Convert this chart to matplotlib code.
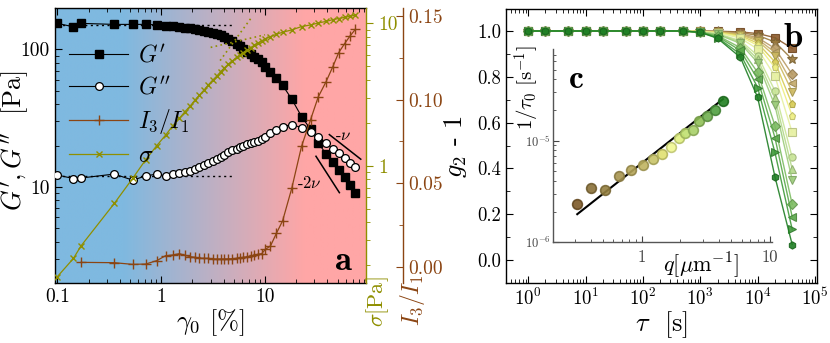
import numpy as np
import matplotlib
matplotlib.use("Agg")
import matplotlib.pyplot as plt
from matplotlib import ticker
from matplotlib.colors import to_rgb

plt.rcParams['font.family'] = 'cmr10'
plt.rcParams['mathtext.fontset'] = 'cm'
plt.rcParams['axes.formatter.use_mathtext'] = True
plt.rcParams['axes.linewidth'] = 1.0

# ---------------- Panel a data ----------------
gamma_pct = [0.1, 0.143, 0.169, 0.354, 0.532, 0.71, 0.906,
             1.105, 1.29, 1.50, 1.70, 1.90, 2.12, 2.33, 2.59, 2.85, 3.13,
             3.43, 3.74, 4.03, 4.43, 4.85, 5.33, 5.74, 6.18, 6.76, 7.28,
             7.89, 8.50, 9.29, 10.1, 11.3, 12.9, 14.8, 18.1, 22.5, 27.5,
             32.6, 38.7, 44.9, 51.2, 58.5, 65.9, 74.1]
G_storage = [154.6, 146, 154.6, 152, 152, 152, 151,
             148, 147, 145.5, 144, 143, 141, 139, 136.5, 134, 131.5,
             129, 126.3, 123.5, 119, 114.5, 109.5, 105.5, 101.5, 96.5, 92,
             88, 84.5, 80.7, 74.5, 68, 61.5, 54.8, 43.5, 32.5, 26.2,
             20.9, 17.4, 15.1, 13.3, 11.8, 10.4, 9.05]
G_loss = [12.2, 11.5, 11.6, 12.4, 11.2, 12.0, 12.4,
          12.0, 12.4, 12.6, 12.9, 13.1, 13.5, 13.9, 14.4, 14.9, 15.4,
          16.0, 16.6, 17.2, 17.8, 18.4, 19.0, 19.6, 20.0, 20.5, 20.8,
          21.2, 21.6, 22.2, 23.1, 24.5, 25.9, 27.4, 28.4, 27.0, 24.9,
          22.9, 20.9, 19.0, 17.5, 16.2, 15.0, 14.0]
sigma_pa = [0.166, 0.223, 0.273, 0.543, 0.815, 1.10, 1.38,
            1.64, 1.90, 2.15, 2.40, 2.62, 2.89, 3.12, 3.40, 3.69, 3.98,
            4.25, 4.57, 4.83, 5.15, 5.43, 5.77, 6.00, 6.23, 6.50, 6.75,
            7.00, 7.23, 7.51, 7.80, 8.06, 8.37, 8.65, 8.98, 9.48, 9.73,
            10.05, 10.3, 10.6, 10.8, 11.0, 11.2, 11.4]
I3_I1 = [np.nan, np.nan, 0.0026, 0.0024, 0.0014, 0.0016, 0.0036,
         0.0066, 0.0070, 0.0078, 0.0068, 0.0060, 0.0056, 0.0052, 0.0050, 0.0050, 0.0047,
         0.0046, 0.0046, 0.0046, 0.0047, 0.0048, 0.0050, 0.0054, 0.0056, 0.0060, 0.0064,
         0.0070, 0.0074, 0.0078, 0.0104, 0.0124, 0.020, 0.0275, 0.0468, 0.072, 0.088,
         0.1016, 0.1106, 0.1195, 0.128, 0.1335, 0.138, 0.142]

plateau_x = [0.1, 4.8]
Gp_plateau = [150, 150]
Gpp_plateau = [12.0, 12.0]
sig_lin_x = [3.7, 7.3]          # linear-regime extrapolation (slope 1)
sig_lin_y = [5.47, 10.8]
sig_pow_x = [3.0, 10.0]         # high-strain power law extrapolation
sig_pow_y = [6.77, 8.3]
nu_x = [41.7, 83.7]
nu_y = [24.0, 15.9]
two_nu_x = [31.0, 52.1]
two_nu_y = [16.7, 9.08]

a_xticks = [0.1, 1, 10]
a_xticklabels = ['0.1', '1', '10']
a_yticks = [10, 100]
a_yticklabels = ['10', '100']
s_yticks = [1, 10]
s_yticklabels = ['1', '10']
i_yticks = [0.0, 0.05, 0.10, 0.15]
i_yticklabels = ['0.00', '0.05', '0.10', '0.15']

# ---------------- Panel b data ----------------
tau_s = [1, 2, 5, 10, 20, 50, 100, 200, 500, 1000, 2000, 5000, 10000, 20000, 40000]
g2_early = [1.0, 1.0, 1.0, 1.0, 1.0, 1.0, 1.0, 1.0, 1.0]
g2_tail = [
    [1.000, 0.999, 0.996, 0.989, 0.971, 0.924],
    [0.999, 0.998, 0.993, 0.981, 0.952, 0.876],
    [0.999, 0.997, 0.989, 0.971, 0.924, 0.811],
    [0.999, 0.996, 0.986, 0.964, 0.907, 0.771],
    [0.998, 0.996, 0.984, 0.957, 0.891, 0.735],
    [0.998, 0.994, 0.980, 0.947, 0.865, 0.680],
    [0.997, 0.993, 0.976, 0.937, 0.841, 0.630],
    [0.997, 0.992, 0.969, 0.921, 0.803, 0.557],
    [0.996, 0.988, 0.958, 0.893, 0.739, 0.448],
    [0.995, 0.987, 0.952, 0.877, 0.707, 0.397],
    [0.994, 0.985, 0.946, 0.862, 0.675, 0.351],
    [0.994, 0.980, 0.927, 0.819, 0.587, 0.243],
    [0.994, 0.976, 0.915, 0.790, 0.535, 0.189],
    [0.994, 0.971, 0.899, 0.753, 0.470, 0.134],
    [0.994, 0.968, 0.885, 0.710, 0.364, 0.068],
]
b_markers = ['s', '*', 'D', '<', 'v', 'p', 'p', 's', 'o', '^', 'v', 'D', '<', '>', 'h']
b_colors = ['#8c5a2a', '#9a7a3e', '#b89a63', '#c4aa6a', '#cdb960', '#d8cc55',
            '#eeee80', '#e6f0a0', '#c8e496', '#b4d88a', '#9ccc7a', '#7cbc62',
            '#5aa84a', '#3f9a3a', '#1f7f24']

# ---------------- Inset c data ----------------
q_um = [0.315, 0.403, 0.518, 0.665, 0.826, 1.02, 1.22, 1.44, 1.69, 1.94,
        2.19, 2.50, 2.81, 3.21, 3.70, 4.27]
rate = [2.40e-6, 3.41e-6, 3.28e-6, 4.48e-6, 5.13e-6, 5.71e-6, 6.55e-6, 7.38e-6,
        8.71e-6, 1.06e-5, 1.18e-5, 1.28e-5, 1.57e-5, 1.76e-5, 2.01e-5, 2.46e-5]
c_colors = ['#7d5a28', '#8a7038', '#958040', '#a89550', '#b4a458', '#c0b460',
            '#c8c468', '#e0e070', '#f0f890', '#e0f080', '#c0e070', '#a8d068',
            '#90c058', '#70b050', '#50a040', '#208020']
fit_q = [0.315, 4.3]
fit_rate = [1.89e-6, 2.56e-5]

olive = '#8f8f00'
brown = '#8b4513'

def darker(c, f=0.7):
    r, g, b = to_rgb(c)
    return (r * f, g * f, b * f)

fig = plt.figure(figsize=(8.3, 3.43), dpi=100)

# ================= Panel a =================
ax = fig.add_axes([54.5 / 830, 60 / 343, 311.5 / 830, 275 / 343])
ax.set_xscale('log')
ax.set_yscale('log')
ax.set_xlim(0.094, 94)
ax.set_ylim(2.0, 200)

# background gradient (blue -> pink)
blue = np.array(to_rgb('#7fb9e0'))
pink = np.array(to_rgb('#ffa6a6'))
u = np.linspace(0, 1, 400)
t = np.clip((u - 0.22) / 0.58, 0, 1)
grad = (1 - t)[:, None] * blue + t[:, None] * pink
ax.imshow(grad[None, :, :], extent=[0, 1, 0, 1], transform=ax.transAxes,
          aspect='auto', zorder=0, interpolation='bilinear')

ax.plot(plateau_x, Gp_plateau, ls=(0, (1.5, 2.5)), color='black', lw=1.0, zorder=2)
ax.plot(plateau_x, Gpp_plateau, ls=(0, (1.5, 2.5)), color='black', lw=1.0, zorder=2)
hGp, = ax.plot(gamma_pct, G_storage, '-s', color='black', lw=0.8, ms=5.2,
               mfc='black', mec='black', zorder=3, label="$G'$")
hGpp, = ax.plot(gamma_pct, G_loss, '-o', color='black', lw=0.8, ms=5.6,
                mfc='white', mec='black', mew=0.9, zorder=3, label="$G''$")
ax.plot(nu_x, nu_y, color='black', lw=1.1, zorder=3)
ax.plot(two_nu_x, two_nu_y, color='black', lw=1.1, zorder=3)
ax.text(56.9, 23.8, r'-$\nu$', fontsize=12, ha='center', va='center', zorder=4)
ax.text(26.6, 10.7, r'-2$\nu$', fontsize=12, ha='center', va='center', zorder=4)

ax.set_xticks(a_xticks)
ax.set_xticklabels(a_xticklabels)
ax.set_yticks(a_yticks)
ax.set_yticklabels(a_yticklabels)
ax.xaxis.set_minor_locator(ticker.LogLocator(base=10, subs=np.arange(2, 10)))
ax.yaxis.set_minor_locator(ticker.LogLocator(base=10, subs=np.arange(2, 10)))
ax.xaxis.set_minor_formatter(ticker.NullFormatter())
ax.yaxis.set_minor_formatter(ticker.NullFormatter())
ax.tick_params(which='both', direction='in', top=True, right=False, labelsize=14)
ax.tick_params(which='major', length=5)
ax.tick_params(which='minor', length=3)
ax.spines['right'].set_visible(False)
ax.set_xlabel(r'$\gamma_0$ [%]', fontsize=19, labelpad=1)
ax.set_ylabel(r"$G',G''$  [Pa]", fontsize=19)
ax.yaxis.set_label_coords(-0.074, 0.52)

# sigma axis
ax_s = ax.twinx()
ax_s.set_yscale('log')
ax_s.set_ylim(0.15, 12.8)
ax_s.plot(sig_lin_x, sig_lin_y, ls=(0, (1, 2)), color=olive, lw=1.2, zorder=2)
ax_s.plot(sig_pow_x, sig_pow_y, ls=(0, (1, 2)), color=olive, lw=1.2, zorder=2)
hS, = ax_s.plot(gamma_pct, sigma_pa, '-x', color=olive, lw=0.9, ms=5, mew=1.0,
                zorder=3, label=r'$\sigma$')
for sp in ['left', 'top', 'bottom']:
    ax_s.spines[sp].set_visible(False)
ax_s.spines['right'].set_color(olive)
ax_s.set_yticks(s_yticks)
ax_s.set_yticklabels(s_yticklabels)
ax_s.yaxis.set_minor_locator(ticker.LogLocator(base=10, subs=np.arange(2, 10)))
ax_s.yaxis.set_minor_formatter(ticker.NullFormatter())
ax_s.tick_params(axis='y', which='both', direction='out', colors=olive, labelsize=14)
ax_s.tick_params(axis='y', which='major', length=5)
ax_s.tick_params(axis='y', which='minor', length=3)

# I3/I1 axis
ax_i = ax.twinx()
ax_i.set_ylim(-0.00975, 0.1548)
ax_i.spines['right'].set_position(('outward', 26.6))
for sp in ['left', 'top', 'bottom']:
    ax_i.spines[sp].set_visible(False)
ax_i.spines['right'].set_color(brown)
hI, = ax_i.plot(gamma_pct, I3_I1, '-+', color=brown, lw=0.9, ms=6.5, mew=1.0,
                zorder=3, label=r'$I_3/I_1$')
ax_i.set_yticks(i_yticks)
ax_i.set_yticklabels(i_yticklabels)
ax_i.yaxis.set_minor_locator(ticker.MultipleLocator(0.025))
ax_i.tick_params(axis='y', which='both', direction='in', colors=brown, labelsize=14)
ax_i.tick_params(axis='y', which='major', length=5)
ax_i.tick_params(axis='y', which='minor', length=3)

fig.text(378 / 830, 1 - 302 / 343, r'$\sigma$[Pa]', rotation=90, color=olive,
         fontsize=16, ha='center', va='center')
fig.text(412 / 830, 1 - 300 / 343, r'$I_3/I_1$', rotation=90, color=brown,
         fontsize=17, ha='center', va='center')

leg = ax_i.legend(handles=[hGp, hGpp, hI, hS], loc='upper left',
                  bbox_to_anchor=(0.01, 0.91), frameon=False, fontsize=17,
                  handlelength=2.5, labelspacing=0.36, borderpad=0.0,
                  handletextpad=0.4)
ax_i.text(0.955, 0.048, 'a', transform=ax_i.transAxes, fontsize=25,
          family='cmb10', ha='right', va='baseline')

# ================= Panel b =================
bx = fig.add_axes([506 / 830, 60 / 343, 310.7 / 830, 274 / 343])
bx.set_xscale('log')
bx.set_xlim(0.41, 1.07e5)
bx.set_ylim(-0.1, 1.096)
for k in range(len(g2_tail)):
    col = b_colors[k]
    yv = g2_early + g2_tail[k]
    ms = 7.5 if b_markers[k] == '*' else 5.2
    bx.plot(tau_s, yv, '-', marker=b_markers[k], color=col, lw=1.0, ms=ms,
            mfc=col, mec=darker(col, 0.8), mew=0.8, alpha=0.9, zorder=3 + k * 0.01)
bx.set_yticks([0.0, 0.2, 0.4, 0.6, 0.8, 1.0])
bx.yaxis.set_minor_locator(ticker.MultipleLocator(0.1))
bx.xaxis.set_major_locator(ticker.LogLocator(base=10, numticks=10))
bx.xaxis.set_minor_locator(ticker.LogLocator(base=10, subs=np.arange(2, 10), numticks=20))
bx.xaxis.set_minor_formatter(ticker.NullFormatter())
bx.yaxis.set_major_formatter(ticker.FormatStrFormatter('%.1f'))
bx.tick_params(which='both', direction='in', top=True, right=True, labelsize=13.5)
bx.tick_params(which='major', length=5)
bx.tick_params(which='minor', length=3)
bx.set_xlabel(r'$\tau$  [s]', fontsize=19, labelpad=0)
bx.set_ylabel(r'$g_2$ - 1', fontsize=19, labelpad=6)
bx.text(0.955, 0.86, 'b', transform=bx.transAxes, fontsize=25, family='cmb10',
        ha='right', va='baseline')

# ================= Inset c =================
cx = fig.add_axes([553.3 / 830, 1 - 242.3 / 343, 218.4 / 830, 193 / 343])
cx.patch.set_alpha(0)
cx.set_xscale('log')
cx.set_yscale('log')
cx.set_xlim(0.205, 10.3)
cx.set_ylim(1e-6, 7.9e-5)
cx.plot(fit_q, fit_rate, color='black', lw=1.5, zorder=2)
for k in range(len(q_um)):
    cx.plot(q_um[k], rate[k], 'o', ms=7, mfc=c_colors[k], mec=darker(c_colors[k], 0.8),
            mew=1.2, alpha=0.9, zorder=3)
for sp in ['top', 'right']:
    cx.spines[sp].set_visible(False)
for sp in ['left', 'bottom']:
    cx.spines[sp].set_color('#555555')
cx.tick_params(which='both', direction='in', colors='#444444')
cx.tick_params(axis='x', which='major', labelsize=12, length=4, pad=5)
cx.tick_params(axis='y', which='major', labelsize=9, length=4, pad=2)
cx.tick_params(which='minor', length=2.5)
cx.xaxis.set_major_locator(ticker.FixedLocator([1, 10]))
cx.xaxis.set_major_formatter(ticker.FixedFormatter(['1', '10']))
cx.xaxis.set_minor_locator(ticker.LogLocator(base=10, subs=np.arange(2, 10)))
cx.xaxis.set_minor_formatter(ticker.NullFormatter())
cx.yaxis.set_minor_locator(ticker.LogLocator(base=10, subs=np.arange(2, 10)))
cx.yaxis.set_minor_formatter(ticker.NullFormatter())
cx.set_xlabel(r'$q[\mu\mathrm{m}^{\mathrm{-1}}]$', fontsize=16)
cx.xaxis.set_label_coords(0.676, -0.04)
cx.set_ylabel(r'$1/\tau_0\ [\mathrm{s}^{\mathrm{-1}}]$', fontsize=15)
cx.yaxis.set_label_coords(-0.05, 0.80)
cx.text(0.07, 0.80, 'c', transform=cx.transAxes, fontsize=24, family='cmb10',
        ha='left', va='baseline')

fig.savefig('out.png', dpi=100)
